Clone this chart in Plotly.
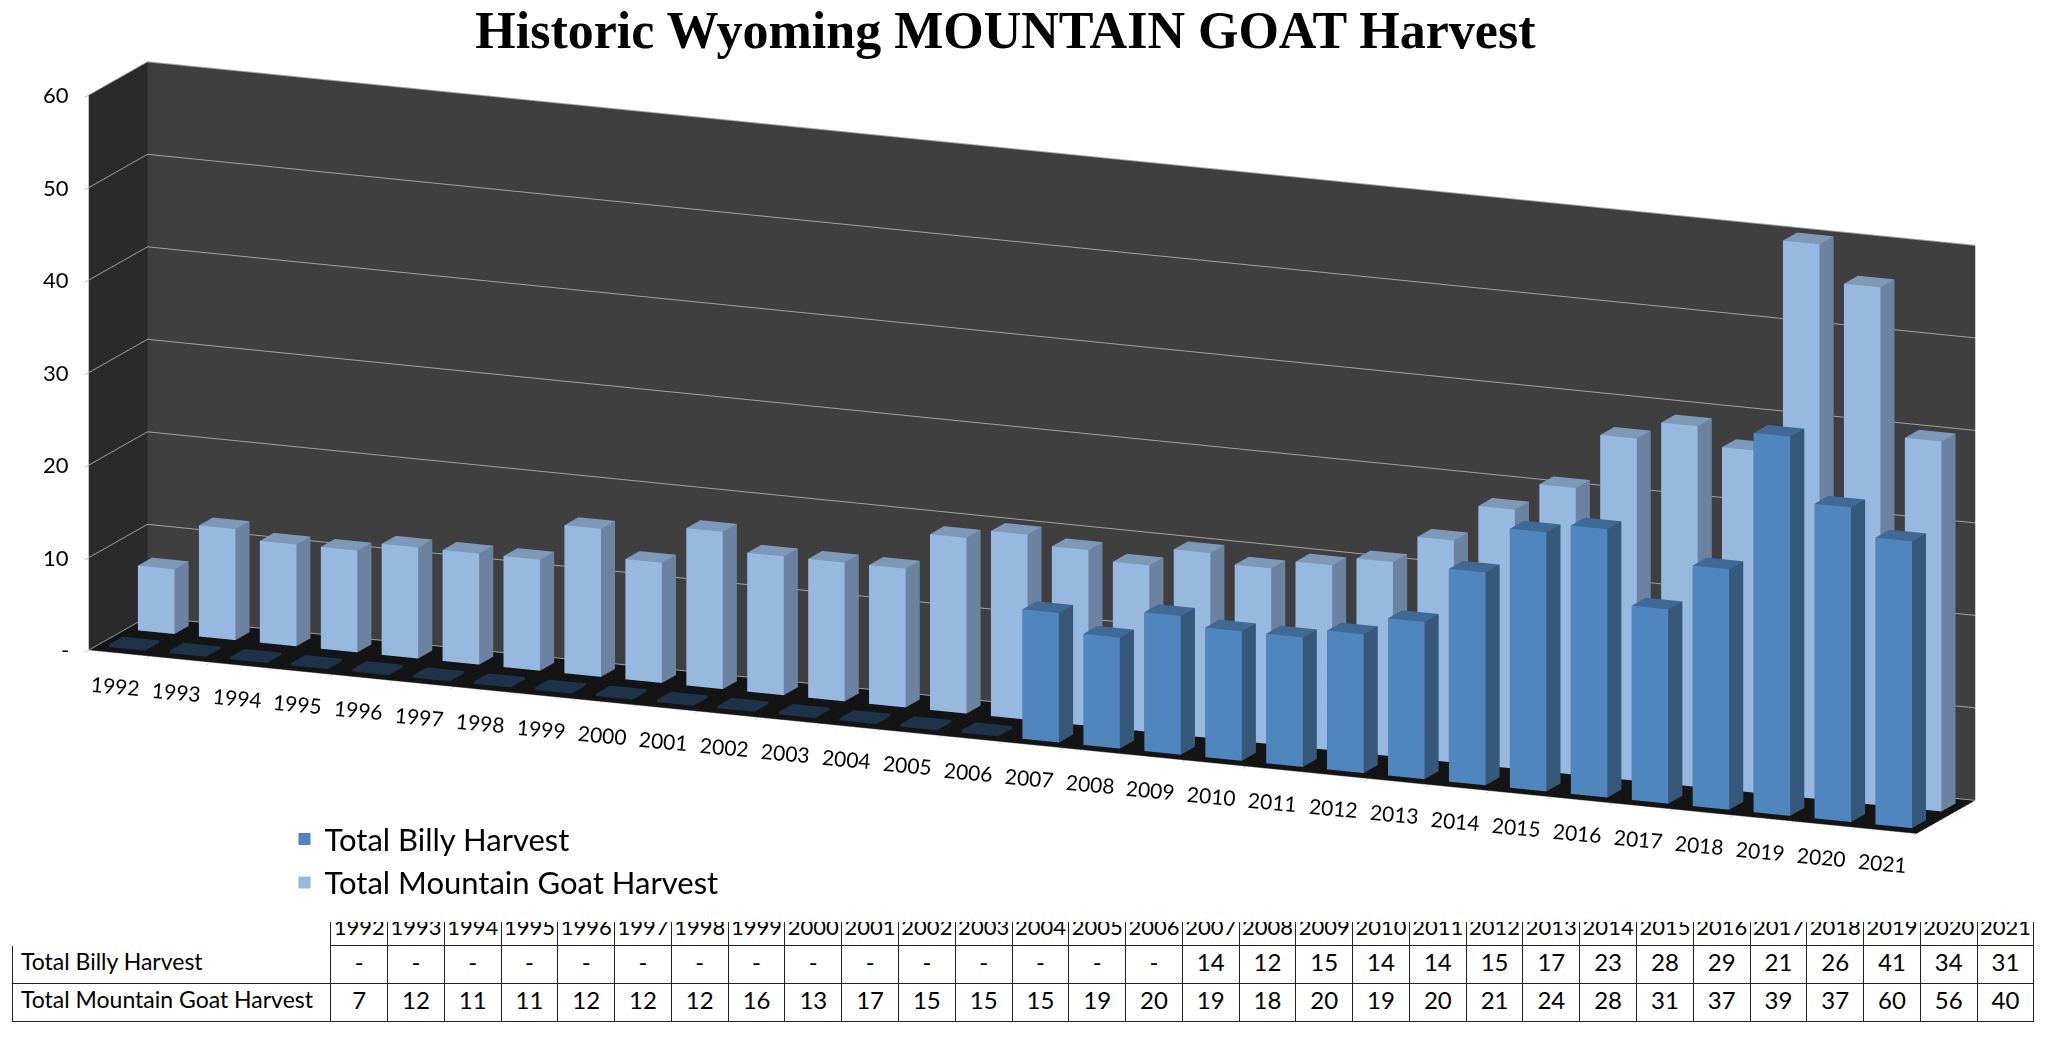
import numpy as np
import plotly.graph_objects as go

years = [str(y) for y in range(1992, 2022)]
billy = [None] * 15 + [14, 12, 15, 14, 14, 15, 17, 23, 28, 29, 21, 26, 41, 34, 31]
goat = [7, 12, 11, 11, 12, 12, 12, 16, 13, 17, 15, 15, 15, 19, 20,
        19, 18, 20, 19, 20, 21, 24, 28, 31, 37, 39, 37, 60, 56, 40]
series_names = ["Total Billy Harvest", "Total Mountain Goat Harvest"]
z_ticks = [0, 10, 20, 30, 40, 50, 60]
z_tick_text = ["-", "10", "20", "30", "40", "50", "60"]

# face colours: front, side, top
billy_cols = ("#4F86BE", "#36587A", "#3F6A95")
goat_cols = ("#97B9E0", "#6B83A0", "#7E98B8")
empty_col = "#1C3349"

FACES = [(0, 1, 5), (0, 5, 4),   # front (y0)
         (1, 2, 6), (1, 6, 5),   # right side
         (4, 5, 6), (4, 6, 7),   # top
         (2, 3, 7), (2, 7, 6),   # back
         (3, 0, 4), (3, 4, 7),   # left
         (0, 1, 2), (0, 2, 3)]   # bottom
FACE_KIND = [0, 0, 1, 1, 2, 2, 1, 1, 1, 1, 1, 1]


def bar_mesh(values, depth, cols, name, hw=0.3, hd=0.24):
    xs, ys, zs, I, J, K, fc = [], [], [], [], [], [], []
    for idx, v in enumerate(values):
        empty = v is None
        top = 0.25 if empty else v   # empty years show as a flat tile on the floor
        x0, x1 = idx - hw, idx + hw
        y0, y1 = depth - hd, depth + hd
        base = len(xs)
        for (x, y, z) in [(x0, y0, 0), (x1, y0, 0), (x1, y1, 0), (x0, y1, 0),
                          (x0, y0, top), (x1, y0, top), (x1, y1, top), (x0, y1, top)]:
            xs.append(x); ys.append(y); zs.append(z)
        for (a, b, c), k in zip(FACES, FACE_KIND):
            I.append(base + a); J.append(base + b); K.append(base + c)
            fc.append(empty_col if empty else cols[k])
    return go.Mesh3d(x=xs, y=ys, z=zs, i=I, j=J, k=K, facecolor=fc,
                     flatshading=True, name=name, hoverinfo="skip",
                     lighting=dict(ambient=1, diffuse=0, specular=0, fresnel=0, roughness=1),
                     showscale=False, showlegend=False)


fig = go.Figure()
fig.add_trace(bar_mesh(goat, 1.0, goat_cols, series_names[1]))
fig.add_trace(bar_mesh(billy, 0.0, billy_cols, series_names[0]))

# legend entries
fig.add_trace(go.Scatter(x=[None], y=[None], mode="markers", name=series_names[0],
                         marker=dict(symbol="square", size=22, color=billy_cols[0])))
fig.add_trace(go.Scatter(x=[None], y=[None], mode="markers", name=series_names[1],
                         marker=dict(symbol="square", size=22, color=goat_cols[0])))

billy_txt = ["-" if v is None else str(v) for v in billy]
goat_txt = ["-" if v is None else str(v) for v in goat]
fig.add_trace(go.Table(
    domain=dict(x=[0.0024, 0.9897], y=[0.0, 0.131]),
    columnwidth=[318] + [56.8] * len(years),
    header=dict(values=[""] + years,
                fill_color="white",
                line=dict(color=["white"] + ["#222222"] * len(years), width=1),
                align="center", height=35,
                font=dict(family="Lato", size=22, color="black")),
    cells=dict(values=[series_names] + [[b, g] for b, g in zip(billy_txt, goat_txt)],
               fill_color="white",
               line=dict(color="#222222", width=1),
               align=["left"] + ["center"] * len(years), height=38,
               font=dict(family="Lato", size=[23] + [24] * len(years), color="black")),
))

year_font = dict(family="Lato", size=21, color="black")
value_font = dict(family="Lato", size=22, color="black")
scene_annotations = []
for idx, yr in enumerate(years):
    scene_annotations.append(dict(x=idx, y=-0.5, z=0, text=yr, showarrow=False,
                                  xanchor="center", yanchor="top", yshift=-16, xshift=-4,
                                  textangle=5, font=year_font))
for zv, zt in zip(z_ticks, z_tick_text):
    scene_annotations.append(dict(x=-0.5, y=-0.5, z=zv, text=zt, showarrow=False,
                                  xanchor="right", yanchor="middle", xshift=-18,
                                  font=value_font))

axis_common = dict(showspikes=False, zeroline=False, title=dict(text=""))
R = 1.25
S = 1.28   # overall scale of the 3D box
fig.update_layout(
    width=2048, height=1038,
    paper_bgcolor="white", plot_bgcolor="white",
    margin=dict(l=0, r=0, t=0, b=0),
    title=dict(text="<b>Historic Wyoming MOUNTAIN GOAT Harvest</b>", x=0.487, xanchor="center",
               y=0.997, yanchor="top",
               font=dict(family="Liberation Serif", size=52, color="black")),
    xaxis=dict(visible=False), yaxis=dict(visible=False),
    legend=dict(x=0.135, y=0.225, xanchor="left", yanchor="top",
                font=dict(family="Lato", size=31, color="black"), bgcolor="rgba(0,0,0,0)",
                itemsizing="constant", tracegroupgap=0),
    scene=dict(
        domain=dict(x=[0.0, 1.0], y=[0.12, 0.98]),
        aspectmode="manual", aspectratio=dict(x=3.47 * S, y=0.265 * S, z=1.0 * S),
        camera=dict(projection=dict(type="orthographic"),
                    eye=dict(x=0.381 * R, y=-0.905 * R, z=0.19 * R),
                    center=dict(x=0, y=0, z=-0.064), up=dict(x=0, y=0, z=1)),
        bgcolor="white",
        annotations=scene_annotations,
        xaxis=dict(axis_common, range=[-0.5, 29.5],
                   tickvals=[i - 0.5 for i in range(len(years) + 1)],
                   showticklabels=False, showgrid=False, showbackground=True,
                   backgroundcolor="#2A2A2A", showline=True, linecolor="#8C8C8C",
                   ticks="outside", tickcolor="#8C8C8C", ticklen=8),
        yaxis=dict(axis_common, range=[-0.5, 1.5], showticklabels=False, showgrid=False,
                   showbackground=True, backgroundcolor="#3F3F3F", showline=True,
                   linecolor="#8C8C8C", ticks=""),
        zaxis=dict(axis_common, range=[0, 60], tickvals=z_ticks, showticklabels=False,
                   showgrid=True, gridcolor="#A0A0A0", gridwidth=2, showbackground=True,
                   backgroundcolor="#141414", showline=True, linecolor="#8C8C8C",
                   ticks="outside", tickcolor="#8C8C8C", ticklen=8),
    ),
)

fig.write_html("out.html")
